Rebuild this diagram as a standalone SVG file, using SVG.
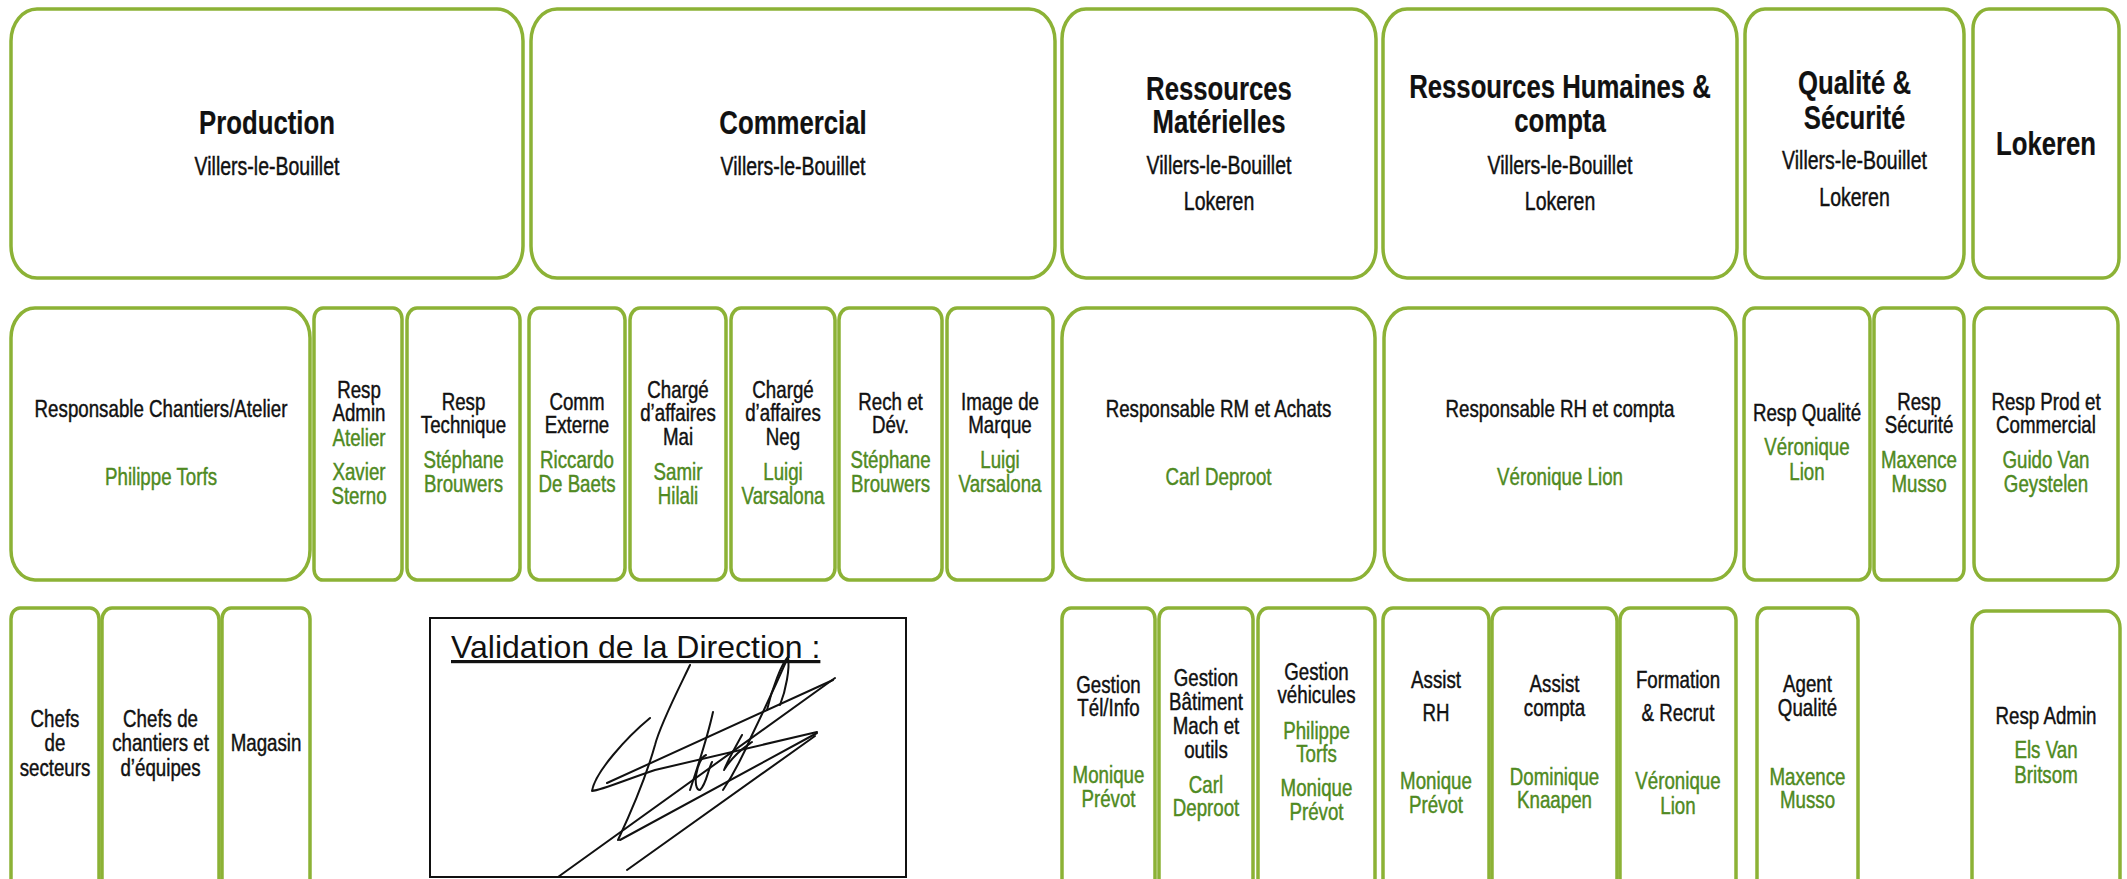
<svg xmlns="http://www.w3.org/2000/svg" width="2127" height="879" viewBox="0 0 2127 879">
<style>
.box{fill:#fff;stroke:#8cb236;stroke-width:3.5}
.t{font-family:"Liberation Sans",Arial,sans-serif;text-anchor:middle;fill:#111;stroke:#111;stroke-width:0.45}
.h{font-size:33px;font-weight:bold;stroke-width:0.2}
.s{font-size:25px}
.l{font-size:24px}
.g{fill:#4f8a22;stroke:#4f8a22}
.sig{fill:none;stroke:#111;stroke-width:2;stroke-linecap:round;stroke-linejoin:round}
</style>
<rect width="2127" height="879" fill="#fff"/>
<g id="connectors"></g>
<!-- Row 1 -->
<g id="production"><rect class="box" x="11" y="9" width="512" height="269" rx="26" ry="32"/>
<text class="t" transform="translate(267 0) scale(0.78 1)"><tspan class="h" x="0" y="134">Production</tspan><tspan class="s" x="0" y="175">Villers-le-Bouillet</tspan></text></g>
<g id="commercial"><rect class="box" x="531" y="9" width="524" height="269" rx="26" ry="32"/>
<text class="t" transform="translate(793 0) scale(0.78 1)"><tspan class="h" x="0" y="134">Commercial</tspan><tspan class="s" x="0" y="175">Villers-le-Bouillet</tspan></text></g>
<g id="ressources-materielles"><rect class="box" x="1062" y="9" width="314" height="269" rx="24" ry="30"/>
<text class="t" transform="translate(1219 0) scale(0.78 1)"><tspan class="h" x="0" y="100">Ressources</tspan><tspan class="h" x="0" y="133">Matérielles</tspan><tspan class="s" x="0" y="174">Villers-le-Bouillet</tspan><tspan class="s" x="0" y="210">Lokeren</tspan></text></g>
<g id="ressources-humaines"><rect class="box" x="1383" y="9" width="354" height="269" rx="24" ry="30"/>
<text class="t" transform="translate(1560 0) scale(0.78 1)"><tspan class="h" x="0" y="98">Ressources Humaines &amp;</tspan><tspan class="h" x="0" y="132">compta</tspan><tspan class="s" x="0" y="174">Villers-le-Bouillet</tspan><tspan class="s" x="0" y="210">Lokeren</tspan></text></g>
<g id="qualite-securite"><rect class="box" x="1745" y="9" width="219" height="269" rx="20" ry="25"/>
<text class="t" transform="translate(1854.5 0) scale(0.78 1)"><tspan class="h" x="0" y="94">Qualité &amp;</tspan><tspan class="h" x="0" y="129">Sécurité</tspan><tspan class="s" x="0" y="169">Villers-le-Bouillet</tspan><tspan class="s" x="0" y="206">Lokeren</tspan></text></g>
<g id="lokeren"><rect class="box" x="1973" y="9" width="146" height="269" rx="16" ry="20"/>
<text class="t h" transform="translate(2046 0) scale(0.78 1)" x="0" y="155">Lokeren</text></g>
<!-- Row 2 -->
<g id="resp-chantiers"><rect class="box" x="11" y="308" width="299" height="272" rx="24" ry="30"/>
<text class="t l" transform="translate(161 0) scale(0.78 1)"><tspan x="0" y="417">Responsable Chantiers/Atelier</tspan><tspan class="g" x="0" y="485">Philippe Torfs</tspan></text></g>
<g id="resp-admin-atelier"><rect class="box" x="314" y="308" width="88" height="272" rx="9" ry="11"/>
<text class="t l" transform="translate(359 0) scale(0.78 1)"><tspan x="0" y="398">Resp</tspan><tspan x="0" y="421.5">Admin</tspan><tspan class="g" x="0" y="446.5">Atelier</tspan><tspan class="g" x="0" y="480">Xavier</tspan><tspan class="g" x="0" y="504.5">Sterno</tspan></text></g>
<g id="resp-technique"><rect class="box" x="407" y="308" width="113" height="272" rx="10" ry="12"/>
<text class="t l" transform="translate(463.5 0) scale(0.78 1)"><tspan x="0" y="410">Resp</tspan><tspan x="0" y="433">Technique</tspan><tspan class="g" x="0" y="468">Stéphane</tspan><tspan class="g" x="0" y="492">Brouwers</tspan></text></g>
<g id="comm-externe"><rect class="box" x="529" y="308" width="96" height="272" rx="10" ry="12"/>
<text class="t l" transform="translate(577 0) scale(0.78 1)"><tspan x="0" y="410">Comm</tspan><tspan x="0" y="433">Externe</tspan><tspan class="g" x="0" y="468">Riccardo</tspan><tspan class="g" x="0" y="492">De Baets</tspan></text></g>
<g id="charge-mai"><rect class="box" x="630" y="308" width="96" height="272" rx="10" ry="12"/>
<text class="t l" transform="translate(678 0) scale(0.78 1)"><tspan x="0" y="398">Chargé</tspan><tspan x="0" y="421.5">d’affaires</tspan><tspan x="0" y="445.5">Mai</tspan><tspan class="g" x="0" y="480">Samir</tspan><tspan class="g" x="0" y="504.5">Hilali</tspan></text></g>
<g id="charge-neg"><rect class="box" x="731" y="308" width="104" height="272" rx="10" ry="12"/>
<text class="t l" transform="translate(783 0) scale(0.78 1)"><tspan x="0" y="398">Chargé</tspan><tspan x="0" y="421.5">d’affaires</tspan><tspan x="0" y="445.5">Neg</tspan><tspan class="g" x="0" y="480.5">Luigi</tspan><tspan class="g" x="0" y="504.5">Varsalona</tspan></text></g>
<g id="rech-dev"><rect class="box" x="839" y="308" width="103" height="272" rx="10" ry="12"/>
<text class="t l" transform="translate(890.5 0) scale(0.78 1)"><tspan x="0" y="410">Rech et</tspan><tspan x="0" y="433">Dév.</tspan><tspan class="g" x="0" y="468">Stéphane</tspan><tspan class="g" x="0" y="492">Brouwers</tspan></text></g>
<g id="image-marque"><rect class="box" x="947" y="308" width="106" height="272" rx="10" ry="12"/>
<text class="t l" transform="translate(1000 0) scale(0.78 1)"><tspan x="0" y="410">Image de</tspan><tspan x="0" y="433">Marque</tspan><tspan class="g" x="0" y="468">Luigi</tspan><tspan class="g" x="0" y="492">Varsalona</tspan></text></g>
<g id="resp-rm"><rect class="box" x="1062" y="308" width="313" height="272" rx="24" ry="30"/>
<text class="t l" transform="translate(1218.5 0) scale(0.78 1)"><tspan x="0" y="417">Responsable RM et Achats</tspan><tspan class="g" x="0" y="485">Carl Deproot</tspan></text></g>
<g id="resp-rh"><rect class="box" x="1384" y="308" width="352" height="272" rx="24" ry="30"/>
<text class="t l" transform="translate(1560 0) scale(0.78 1)"><tspan x="0" y="417">Responsable RH et compta</tspan><tspan class="g" x="0" y="485">Véronique Lion</tspan></text></g>
<g id="resp-qualite"><rect class="box" x="1744" y="308" width="126" height="272" rx="11" ry="13"/>
<text class="t l" transform="translate(1807 0) scale(0.78 1)"><tspan x="0" y="421.5">Resp Qualité</tspan><tspan class="g" x="0" y="455">Véronique</tspan><tspan class="g" x="0" y="480">Lion</tspan></text></g>
<g id="resp-securite"><rect class="box" x="1874" y="308" width="90" height="272" rx="9" ry="11"/>
<text class="t l" transform="translate(1919 0) scale(0.78 1)"><tspan x="0" y="410">Resp</tspan><tspan x="0" y="433">Sécurité</tspan><tspan class="g" x="0" y="468">Maxence</tspan><tspan class="g" x="0" y="492">Musso</tspan></text></g>
<g id="resp-prod-commercial"><rect class="box" x="1974" y="308" width="144" height="272" rx="14" ry="17"/>
<text class="t l" transform="translate(2046 0) scale(0.78 1)"><tspan x="0" y="410">Resp Prod et</tspan><tspan x="0" y="433">Commercial</tspan><tspan class="g" x="0" y="468">Guido Van</tspan><tspan class="g" x="0" y="492">Geystelen</tspan></text></g>
<!-- Row 3 -->
<g id="chefs-secteurs"><rect class="box" x="11" y="608" width="88" height="300" rx="9" ry="11"/>
<text class="t l" transform="translate(55 0) scale(0.78 1)"><tspan x="0" y="727.5">Chefs</tspan><tspan x="0" y="751">de</tspan><tspan x="0" y="776">secteurs</tspan></text></g>
<g id="chefs-chantiers"><rect class="box" x="102" y="608" width="117" height="300" rx="10" ry="12"/>
<text class="t l" transform="translate(160.5 0) scale(0.78 1)"><tspan x="0" y="727.5">Chefs de</tspan><tspan x="0" y="751">chantiers et</tspan><tspan x="0" y="776">d’équipes</tspan></text></g>
<g id="magasin"><rect class="box" x="222" y="608" width="88" height="300" rx="9" ry="11"/>
<text class="t l" transform="translate(266 0) scale(0.78 1)" x="0" y="751">Magasin</text></g>
<g id="validation">
<rect x="430" y="618" width="476" height="259" fill="#fff" stroke="#111" stroke-width="2"/>
<text x="451" y="658" font-family="Liberation Sans, Arial, sans-serif" font-size="32" fill="#111" text-decoration="underline">Validation de la Direction :</text>
<path class="sig" d="M835,678 L558,877"/>
<path class="sig" d="M833,680 L607,783"/>
<path class="sig" d="M650,718 C627,737 595,772 592,791 C602,790 625,780 655,770 L817,732"/>
<path class="sig" d="M817,733 L620,840"/>
<path class="sig" stroke="#777" d="M815,736 L627,870"/>
<path class="sig" d="M690,665 C678,690 660,725 655,745 C648,770 632,810 618,840"/>
<path class="sig" d="M788,657 C778,680 765,708 752,735 C742,758 733,775 723,790"/>
<path class="sig" d="M767,710 C772,688 782,663 788,657 C790,668 786,690 780,705"/>
<path class="sig" d="M713,712 C708,735 700,760 690,790 M706,755 C696,760 692,790 700,790 C706,785 708,770 712,762"/>
<path class="sig" d="M742,735 C735,748 728,760 724,770 C735,752 748,745 752,742"/>
</g>
<g id="gestion-tel"><rect class="box" x="1062" y="608" width="93" height="300" rx="9" ry="11"/>
<text class="t l" transform="translate(1108.5 0) scale(0.78 1)"><tspan x="0" y="693">Gestion</tspan><tspan x="0" y="716.5">Tél/Info</tspan><tspan class="g" x="0" y="783.5">Monique</tspan><tspan class="g" x="0" y="807">Prévot</tspan></text></g>
<g id="gestion-batiment"><rect class="box" x="1159" y="608" width="94" height="300" rx="9" ry="11"/>
<text class="t l" transform="translate(1206 0) scale(0.78 1)"><tspan x="0" y="686.5">Gestion</tspan><tspan x="0" y="710">Bâtiment</tspan><tspan x="0" y="734">Mach et</tspan><tspan x="0" y="758">outils</tspan><tspan class="g" x="0" y="793">Carl</tspan><tspan class="g" x="0" y="816.5">Deproot</tspan></text></g>
<g id="gestion-vehicules"><rect class="box" x="1258" y="608" width="117" height="300" rx="10" ry="12"/>
<text class="t l" transform="translate(1316.5 0) scale(0.78 1)"><tspan x="0" y="680">Gestion</tspan><tspan x="0" y="703.5">véhicules</tspan><tspan class="g" x="0" y="739">Philippe</tspan><tspan class="g" x="0" y="762">Torfs</tspan><tspan class="g" x="0" y="796">Monique</tspan><tspan class="g" x="0" y="820">Prévot</tspan></text></g>
<g id="assist-rh"><rect class="box" x="1383" y="608" width="106" height="300" rx="10" ry="12"/>
<text class="t l" transform="translate(1436 0) scale(0.78 1)"><tspan x="0" y="688">Assist</tspan><tspan x="0" y="721.5">RH</tspan><tspan class="g" x="0" y="789">Monique</tspan><tspan class="g" x="0" y="813">Prévot</tspan></text></g>
<g id="assist-compta"><rect class="box" x="1492" y="608" width="125" height="300" rx="11" ry="13"/>
<text class="t l" transform="translate(1554.5 0) scale(0.78 1)"><tspan x="0" y="692">Assist</tspan><tspan x="0" y="716">compta</tspan><tspan class="g" x="0" y="785">Dominique</tspan><tspan class="g" x="0" y="808">Knaapen</tspan></text></g>
<g id="formation"><rect class="box" x="1620" y="608" width="116" height="300" rx="10" ry="12"/>
<text class="t l" transform="translate(1678 0) scale(0.78 1)"><tspan x="0" y="688">Formation</tspan><tspan x="0" y="721.5">&amp; Recrut</tspan><tspan class="g" x="0" y="789">Véronique</tspan><tspan class="g" x="0" y="814">Lion</tspan></text></g>
<g id="agent-qualite"><rect class="box" x="1757" y="608" width="101" height="300" rx="10" ry="12"/>
<text class="t l" transform="translate(1807.5 0) scale(0.78 1)"><tspan x="0" y="692">Agent</tspan><tspan x="0" y="716">Qualité</tspan><tspan class="g" x="0" y="785">Maxence</tspan><tspan class="g" x="0" y="808">Musso</tspan></text></g>
<g id="resp-admin"><rect class="box" x="1972" y="611" width="148" height="300" rx="14" ry="17"/>
<text class="t l" transform="translate(2046 0) scale(0.78 1)"><tspan x="0" y="724">Resp Admin</tspan><tspan class="g" x="0" y="758">Els Van</tspan><tspan class="g" x="0" y="783">Britsom</tspan></text></g>
</svg>
